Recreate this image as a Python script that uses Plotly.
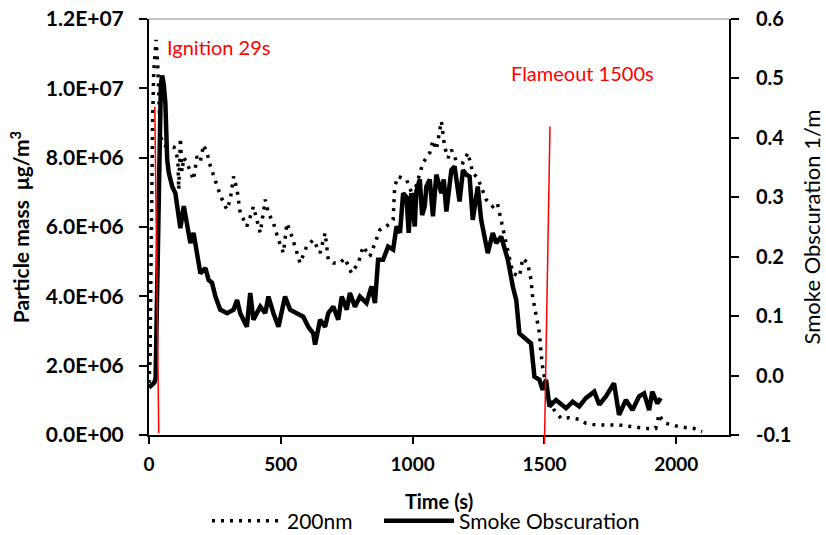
import plotly.graph_objects as go

# ---------------- data ----------------
time_200nm = [0, 4, 7, 10, 14, 18, 22, 27, 33, 38, 42, 50, 65, 81, 95, 106, 110, 113, 119, 125, 132,
              144, 157, 169, 182, 195, 207, 220, 233, 245, 258, 270, 283, 296, 308, 321, 334, 346,
              359, 371, 384, 396, 409, 422, 441, 453, 472, 491, 510, 523, 542, 560, 573, 598, 623,
              649, 668, 680, 699, 724, 743, 768, 794, 812, 838, 876, 901, 926, 932, 945, 977, 1002,
              1039, 1065, 1077, 1090, 1109, 1121, 1134, 1147, 1166, 1191, 1210, 1228, 1247, 1279,
              1304, 1321, 1348, 1380, 1405, 1418, 1436, 1449, 1455, 1468, 1481, 1487, 1493, 1506,
              1519, 1537, 1563, 1594, 1632, 1657, 1695, 1745, 1783, 1834, 1884, 1922, 1935, 1945,
              1960, 1985, 2010, 2040, 2067, 2098]
mass_200nm = [1.5e6, 2.2e6, 4.5e6, 7.0e6, 9.2e6, 10.5e6, 11.0e6, 11.4e6, 10.7e6, 9.7e6, 8.8e6, 8.4e6,
              8.33e6, 8.33e6, 8.3e6, 8.04e6, 7.8e6, 7.08e6, 8.57e6, 7.6e6, 8.0e6,
              7.85e6, 7.56e6, 7.36e6, 8.04e6, 7.9e6, 8.37e6, 8.14e6, 7.75e6, 7.46e6, 7.17e6, 6.93e6,
              6.69e6, 6.5e6, 6.79e6, 7.46e6, 7.08e6, 6.4e6,
              6.21e6, 6.02e6, 6.3e6, 6.59e6, 6.21e6, 5.83e6, 6.79e6, 6.4e6, 6.11e6, 5.63e6, 5.25e6,
              6.11e6, 5.73e6, 5.25e6, 4.96e6, 5.44e6, 5.63e6,
              5.25e6, 5.83e6, 5.05e6, 4.96e6, 4.96e6, 5.1e6, 4.67e6, 4.96e6, 5.44e6, 5.15e6, 5.92e6,
              6.02e6, 6.21e6, 7.17e6, 7.46e6, 7.36e6, 6.88e6,
              7.85e6, 8.14e6, 8.5e6, 8.23e6, 9.05e6, 8.33e6, 7.99e6, 8.23e6, 7.9e6, 7.85e6, 8.14e6,
              7.56e6, 7.41e6, 6.79e6,
              6.59e6, 6.7e6, 5.78e6, 4.67e6, 4.57e6, 5.1e6, 4.96e6, 4.48e6, 4.0e6, 3.51e6, 2.94e6,
              2.36e6, 1.97e6, 1.4e6,
              1.01e6, 0.72e6, 0.48e6, 0.5e6, 0.45e6, 0.34e6, 0.29e6, 0.29e6, 0.29e6, 0.24e6, 0.19e6,
              0.19e6, 0.6e6, 0.45e6,
              0.34e6, 0.29e6, 0.24e6, 0.21e6, 0.19e6, 0.1e6]

time_smoke = [0, 10, 20, 25, 30, 35, 40, 45, 50, 56, 62, 66, 69, 75, 88, 100, 113, 119, 132, 144,
              157, 169, 182, 195, 214, 226, 239, 252, 270, 296, 321, 334, 346, 359, 371, 384, 396,
              409, 422, 441, 453, 472, 491, 516, 535, 560, 585, 604, 623, 630, 649, 668, 680, 699,
              718, 731, 750, 762, 781, 800, 825, 844, 857, 869, 888, 907, 926, 939, 952, 964, 977,
              985, 995, 1008, 1014, 1027, 1036, 1046, 1052, 1065, 1077, 1090, 1109, 1118, 1128,
              1147, 1159, 1178, 1191, 1204, 1216, 1228, 1247, 1260, 1285, 1304, 1317, 1336, 1361,
              1380, 1393, 1405, 1430, 1449, 1462, 1481, 1493, 1506, 1519, 1544, 1582, 1607, 1632,
              1657, 1689, 1708, 1733, 1764, 1783, 1809, 1834, 1859, 1878, 1897, 1909, 1928, 1941]
smoke_obs = [-0.02, -0.017, -0.012, -0.005, 0.12, 0.28, 0.42, 0.49, 0.505, 0.49, 0.459, 0.397,
             0.363, 0.341, 0.318, 0.307, 0.273, 0.248, 0.285, 0.251,
             0.223, 0.24, 0.206, 0.172, 0.181, 0.161, 0.156, 0.133, 0.111, 0.105, 0.111, 0.127,
             0.105, 0.094, 0.082, 0.139, 0.094,
             0.105, 0.116, 0.105, 0.133, 0.105, 0.082, 0.133, 0.111, 0.105, 0.099, 0.082, 0.071,
             0.052, 0.094, 0.082, 0.105, 0.116,
             0.094, 0.133, 0.111, 0.139, 0.116, 0.133, 0.122, 0.15, 0.122, 0.195, 0.195, 0.217,
             0.212, 0.251, 0.24, 0.307, 0.30,
             0.24, 0.307, 0.251, 0.31, 0.33, 0.27, 0.285, 0.318, 0.33, 0.268, 0.338, 0.307, 0.33,
             0.276,
             0.346, 0.352, 0.293, 0.346, 0.338, 0.335, 0.262, 0.318, 0.262, 0.206, 0.24, 0.223,
             0.234, 0.195,
             0.15, 0.127, 0.071, 0.06, 0.054, -0.002, -0.007, -0.024, -0.007, -0.052, -0.041,
             -0.055, -0.044, -0.052,
             -0.038, -0.027, -0.049, -0.035, -0.013, -0.066, -0.041, -0.058, -0.035, -0.03, -0.058,
             -0.027, -0.047, -0.038]

x_ticks = [0, 500, 1000, 1500, 2000]
x_range = [0, 2200]
y_left_ticks = [0, 2e6, 4e6, 6e6, 8e6, 10e6, 12e6]
y_left_labels = ["0.0E+00", "2.0E+06", "4.0E+06", "6.0E+06", "8.0E+06", "1.0E+07", "1.2E+07"]
y_left_range = [0, 1.2e7]
y_right_ticks = [-0.1, 0.0, 0.1, 0.2, 0.3, 0.4, 0.5, 0.6]
y_right_labels = ["-0.1", "0.0", "0.1", "0.2", "0.3", "0.4", "0.5", "0.6"]
y_right_range = [-0.1, 0.6]

# event markers (time in s, particle mass for end points)
ignition_label = "Ignition 29s"
ignition_line = [(22, 9.47e6), (37, 0.06e6)]
flameout_label = "Flameout 1500s"
flameout_line = [(1521, 8.9e6), (1500, -0.26e6)]

FONT = "Lato"
PAD = "\u00a0" * 4  # spacing after first legend entry


def to_paper(t, m):
    return ((t - x_range[0]) / (x_range[1] - x_range[0]),
            (m - y_left_range[0]) / (y_left_range[1] - y_left_range[0]))


fig = go.Figure()
fig.add_trace(go.Scatter(x=time_200nm, y=mass_200nm, mode="lines", name="200nm" + PAD,
                         line=dict(color="black", width=3.5, dash="3px,6px"),
                         yaxis="y"))
fig.add_trace(go.Scatter(x=time_smoke, y=smoke_obs, mode="lines", name="Smoke Obscuration",
                         line=dict(color="black", width=4.5), yaxis="y2"))

shapes = []
for (p0, p1) in (ignition_line, flameout_line):
    x0, y0 = to_paper(*p0)
    x1, y1 = to_paper(*p1)
    shapes.append(dict(type="line", xref="paper", yref="paper", x0=x0, y0=y0, x1=x1, y1=y1,
                       line=dict(color="red", width=1.5)))
shapes.append(dict(type="line", xref="paper", yref="paper", x0=0, x1=1, y0=1, y1=1,
                   line=dict(color="#8c8c8c", width=1)))

xtickfont = dict(family=FONT, size=19, color="black", weight="bold")
ytickfont = dict(family=FONT, size=21, color="black", weight="bold")
y2tickfont = dict(family=FONT, size=20, color="black", weight="bold")

fig.update_layout(
    width=826, height=535,
    margin=dict(l=149, r=97, t=19, b=100, autoexpand=False),
    paper_bgcolor="white", plot_bgcolor="white",
    showlegend=True,
    legend=dict(orientation="h", x=0.1, xanchor="left", y=-0.207, yanchor="middle",
                font=dict(family=FONT, size=21, color="black"), itemwidth=70,
                bgcolor="rgba(0,0,0,0)", traceorder="normal"),
    xaxis=dict(range=x_range, tickvals=x_ticks, ticks="outside", ticklen=7, tickwidth=1.5,
               tickcolor="black", showline=True, linecolor="black", linewidth=2,
               showgrid=False, zeroline=False, tickfont=xtickfont, ticklabelstandoff=4,
               title=dict(text="Time (s)", font=dict(family=FONT, size=20, color="black", weight="bold"),
                          standoff=21)),
    yaxis=dict(range=y_left_range, tickvals=y_left_ticks, ticktext=y_left_labels,
               ticks="outside", ticklen=8, tickwidth=1.5, tickcolor="black",
               showline=True, linecolor="black", linewidth=2, showgrid=False, zeroline=False,
               tickfont=ytickfont, ticklabelstandoff=11,
               title=dict(text="Particle mass\u00a0\u00a0μg/m<sup>3</sup>",
                          font=dict(family=FONT, size=21, color="black", weight="bold"),
                          standoff=10)),
    yaxis2=dict(range=y_right_range, tickvals=y_right_ticks, ticktext=y_right_labels,
                overlaying="y", side="right", ticks="outside", ticklen=8, tickwidth=1.5,
                tickcolor="black", showline=True, linecolor="black", linewidth=2,
                showgrid=False, zeroline=False, tickfont=y2tickfont, ticklabelstandoff=13,
                title=dict(text="Smoke Obscuration 1/m",
                           font=dict(family=FONT, size=22, color="black"), standoff=14)),
    shapes=shapes,
    annotations=[
        dict(text=ignition_label, x=62, y=1.118e7, xref="x", yref="y", xanchor="left",
             yanchor="middle", showarrow=False, font=dict(family=FONT, size=20, color="red")),
        dict(text=flameout_label, x=1367, y=1.045e7, xref="x", yref="y", xanchor="left",
             yanchor="middle", showarrow=False, font=dict(family=FONT, size=20, color="red")),
    ],
)

fig.write_html("out.html")
